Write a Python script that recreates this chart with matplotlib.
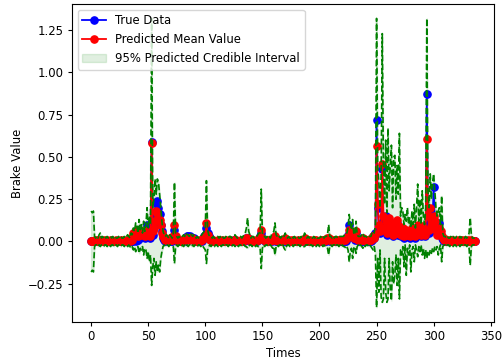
import numpy as np
import matplotlib
matplotlib.use("Agg")
import matplotlib.pyplot as plt

# values, one per time step (0..336)
true_data = [
    0, 0, 0, 0, 0, 0, 0, 0, 0, 0,
    0, 0, 0, 0, 0, 0, 0, 0, 0, 0,
    0, 0, 0, 0, 0, 0, 0, 0, 0, 0,
    0, 0, 0, 0, 0, 0, 0, 0, 0.02, 0,
    0.04, 0.01, 0.05, 0.02, 0.06, 0.03, 0.05, 0.02, 0.04, 0.10,
    0.03, 0.05, 0.02, 0.59, 0.04, 0.09, 0.16, 0.23, 0.24, 0.20,
    0.16, 0.10, 0.06, 0.02, 0.01, 0, 0.01, 0, 0, 0.01,
    0, 0, 0.02, 0.07, 0.02, 0, 0, 0, 0, 0,
    0, 0, 0.01, 0.02, 0.03, 0.03, 0.02, 0.03, 0.02, 0.01,
    0.02, 0.01, 0, 0, 0, 0, 0.01, 0, 0.02, 0.03,
    0.04, 0.08, 0.05, 0.03, 0.02, 0.01, 0, 0, 0, 0,
    0, 0, 0, 0, 0, 0, 0, 0, 0, 0,
    0, 0, 0, 0, 0, 0.01, 0.01, 0, 0, 0,
    0, 0, 0, 0, 0, 0.01, 0.02, 0.02, 0.01, 0,
    0, 0, 0, 0, 0, 0, 0.01, 0.02, 0.03, 0.05,
    0.02, 0.01, 0, 0, 0, 0, 0, 0, 0, 0.01,
    0.02, 0.01, 0, 0, 0, 0, 0, 0.01, 0.01, 0,
    0.01, 0, 0, 0, 0, 0, 0, 0, 0, 0,
    0, 0, 0, 0, 0, 0, 0.01, 0.01, 0, 0,
    0, 0, 0, 0, 0, 0, 0, 0, 0, 0,
    0, 0, 0, 0, 0, 0, 0, 0.01, 0.01, 0,
    0, 0, 0, 0, 0, 0, 0, 0, 0, 0,
    0, 0, 0, 0, 0.02, 0.04, 0.10, 0.06, 0.03, 0.04,
    0.02, 0.01, 0.05, 0.02, 0.01, 0, 0, 0, 0.01, 0,
    0, 0, 0, 0, 0, 0, 0.01, 0.03, 0.02, 0.05,
    0.72, 0.20, 0.08, 0.05, 0.10, 0.43, 0.12, 0.06, 0.15, 0.04,
    0.08, 0.12, 0.05, 0.07, 0.03, 0.09, 0.05, 0.06, 0.11, 0.04,
    0.08, 0.03, 0.05, 0.07, 0.02, 0.04, 0.06, 0.03, 0.05, 0.02,
    0.04, 0.07, 0.03, 0.05, 0.02, 0.06, 0.09, 0.04, 0.07, 0.03,
    0.08, 0.05, 0.03, 0.06, 0.87, 0.10, 0.05, 0.19, 0.08, 0.12,
    0.32, 0.11, 0.06, 0.05, 0.08, 0.11, 0.04, 0.02, 0.01, 0,
    0, 0, 0, 0, 0, 0, 0, 0, 0, 0,
    0, 0, 0, 0, 0, 0, 0, 0, 0, 0,
    0, 0, 0, 0, 0, 0, 0,
]

pred_mean = [
    0.00, 0.00, 0.00, 0.01, 0.00, 0.01, 0.00, 0.00, 0.01, 0.00,
    0, 0.01, 0, 0, 0.01, 0, 0, 0.01, 0, 0,
    0, 0, 0.01, 0, 0, 0, 0.01, 0, 0, 0.01,
    0, 0, 0.01, 0.01, 0, 0.02, 0.01, 0.05, 0.04, 0.06,
    0.06, 0.03, 0.05, 0.06, 0.04, 0.06, 0.05, 0.03, 0.06, 0.06,
    0.05, 0.04, 0.03, 0.58, 0.06, 0.08, 0.12, 0.18, 0.17, 0.14,
    0.13, 0.10, 0.05, 0.03, 0.02, 0.01, 0.01, 0.01, 0.01, 0.02,
    0.01, 0.01, 0.03, 0.10, 0.03, 0.01, 0, 0.01, 0, 0,
    0.01, 0.01, 0.01, 0.02, 0.02, 0.02, 0.01, 0.02, 0.02, 0.01,
    0.01, 0.01, 0, 0.01, 0, 0, 0.01, 0.01, 0.02, 0.02,
    0.03, 0.11, 0.04, 0.02, 0.01, 0.01, 0, 0.01, 0, 0,
    0, 0.01, 0, 0, 0, 0.01, 0, 0, 0.01, 0,
    0, 0, 0.01, 0, 0, 0.01, 0.01, 0.01, 0, 0,
    0, 0.01, 0, 0, 0.01, 0.01, 0.02, 0.02, 0.01, 0.01,
    0, 0, 0.01, 0, 0, 0.01, 0.01, 0.02, 0.02, 0.07,
    0.02, 0.01, 0.01, 0, 0.01, 0, 0.01, 0, 0.01, 0.01,
    0.02, 0.03, 0.01, 0.01, 0, 0.01, 0, 0.01, 0.01, 0.01,
    0.02, 0.01, 0, 0.01, 0, 0, 0.01, 0, 0.01, 0,
    0, 0.01, 0, 0, 0.01, 0, 0.01, 0.02, 0.01, 0,
    0.01, 0, 0.01, 0, 0, 0.01, 0, 0.01, 0, 0,
    0, 0.01, 0, 0.01, 0, 0.01, 0.01, 0.02, 0.02, 0.01,
    0.01, 0, 0.01, 0, 0.01, 0.01, 0, 0.01, 0.01, 0.01,
    0.01, 0.01, 0.01, 0.02, 0.02, 0.03, 0.07, 0.04, 0.03, 0.03,
    0.02, 0.02, 0.06, 0.02, 0.01, 0.01, 0.01, 0.01, 0.02, 0.01,
    0.01, 0.01, 0.01, 0.01, 0.01, 0.01, 0.02, 0.03, 0.02, 0.04,
    0.565, 0.22, 0.10, 0.06, 0.08, 0.46, 0.15, 0.08, 0.12, 0.05,
    0.10, 0.14, 0.06, 0.09, 0.04, 0.11, 0.06, 0.05, 0.13, 0.05,
    0.09, 0.04, 0.06, 0.08, 0.03, 0.05, 0.07, 0.04, 0.06, 0.03,
    0.04, 0.08, 0.04, 0.06, 0.03, 0.05, 0.10, 0.05, 0.08, 0.04,
    0.09, 0.06, 0.04, 0.07, 0.605, 0.15, 0.07, 0.20, 0.09, 0.10,
    0.15, 0.12, 0.07, 0.04, 0.06, 0.08, 0.06, 0.03, 0.02, 0.01,
    0.01, 0, 0.01, 0, 0.01, 0, 0, 0.01, 0, 0,
    0, 0.01, 0, 0, 0.01, 0, 0, 0.01, 0, 0,
    0.01, 0, 0, 0.01, 0, 0, 0,
]

upper_ci = [
    0.18, 0.17, 0.18, 0.03, 0.02, 0.03, 0.02, 0.04, 0.05, 0.02,
    0.03, 0.02, 0.03, 0.02, 0.03, 0.02, 0.02, 0.03, 0.02, 0.03,
    0.02, 0.03, 0.02, 0.02, 0.03, 0.02, 0.03, 0.02, 0.02, 0.03,
    0.02, 0.03, 0.04, 0.03, 0.02, 0.05, 0.04, 0.08, 0.06, 0.11,
    0.09, 0.05, 0.13, 0.07, 0.10, 0.05, 0.12, 0.06, 0.10, 0.20,
    0.08, 0.15, 0.10, 1.32, 0.20, 0.25, 0.37, 0.28, 0.37, 0.35,
    0.28, 0.20, 0.12, 0.06, 0.04, 0.03, 0.04, 0.03, 0.02, 0.04,
    0.03, 0.02, 0.05, 0.35, 0.05, 0.03, 0.02, 0.03, 0.02, 0.03,
    0.03, 0.04, 0.03, 0.05, 0.04, 0.04, 0.03, 0.05, 0.04, 0.03,
    0.04, 0.03, 0.02, 0.03, 0.02, 0.03, 0.03, 0.04, 0.05, 0.06,
    0.08, 0.36, 0.07, 0.04, 0.03, 0.03, 0.02, 0.03, 0.02, 0.02,
    0.03, 0.03, 0.02, 0.03, 0.02, 0.03, 0.02, 0.02, 0.03, 0.02,
    0.02, 0.03, 0.03, 0.02, 0.03, 0.03, 0.04, 0.03, 0.02, 0.02,
    0.03, 0.03, 0.02, 0.03, 0.04, 0.05, 0.08, 0.14, 0.06, 0.04,
    0.02, 0.03, 0.03, 0.02, 0.03, 0.03, 0.04, 0.05, 0.05, 0.31,
    0.05, 0.03, 0.03, 0.02, 0.03, 0.02, 0.03, 0.02, 0.04, 0.05,
    0.06, 0.11, 0.04, 0.03, 0.02, 0.03, 0.02, 0.03, 0.04, 0.03,
    0.05, 0.03, 0.02, 0.03, 0.02, 0.02, 0.03, 0.02, 0.03, 0.02,
    0.02, 0.03, 0.02, 0.02, 0.03, 0.02, 0.03, 0.05, 0.03, 0.02,
    0.03, 0.02, 0.03, 0.02, 0.02, 0.03, 0.02, 0.03, 0.02, 0.02,
    0.02, 0.03, 0.02, 0.03, 0.02, 0.03, 0.03, 0.04, 0.10, 0.03,
    0.03, 0.02, 0.03, 0.02, 0.03, 0.03, 0.02, 0.03, 0.03, 0.03,
    0.03, 0.03, 0.04, 0.05, 0.05, 0.08, 0.16, 0.10, 0.07, 0.13,
    0.05, 0.04, 0.12, 0.04, 0.03, 0.03, 0.03, 0.04, 0.05, 0.03,
    0.03, 0.03, 0.02, 0.03, 0.03, 0.03, 0.05, 0.06, 0.05, 0.10,
    1.32, 0.45, 0.35, 0.20, 0.40, 1.23, 0.45, 0.22, 0.60, 0.17,
    0.67, 0.30, 0.45, 0.57, 0.20, 0.50, 0.51, 0.25, 0.45, 0.28,
    0.64, 0.15, 0.20, 0.18, 0.10, 0.16, 0.12, 0.20, 0.10, 0.14,
    0.08, 0.18, 0.10, 0.22, 0.08, 0.20, 0.34, 0.12, 0.25, 0.10,
    0.30, 0.15, 0.10, 0.20, 1.32, 0.30, 0.20, 0.40, 0.25, 0.35,
    0.40, 0.30, 0.20, 0.15, 0.18, 0.20, 0.10, 0.27, 0.05, 0.03,
    0.03, 0.02, 0.03, 0.02, 0.02, 0.03, 0.02, 0.03, 0.02, 0.02,
    0.03, 0.02, 0.02, 0.03, 0.02, 0.03, 0.02, 0.02, 0.03, 0.02,
    0.03, 0.05, 0.14, 0.04, 0.02, 0.02, 0.02,
]

lower_ci = [
    -0.18, -0.17, -0.18, -0.03, -0.02, -0.02, -0.03, -0.02, -0.03, -0.02,
    -0.02, -0.03, -0.02, -0.02, -0.03, -0.02, -0.02, -0.03, -0.02, -0.02,
    -0.03, -0.02, -0.02, -0.03, -0.02, -0.02, -0.03, -0.02, -0.02, -0.03,
    -0.02, -0.02, -0.03, -0.02, -0.03, -0.04, -0.03, -0.05, -0.03, -0.06,
    -0.04, -0.03, -0.07, -0.04, -0.05, -0.03, -0.08, -0.04, -0.05, -0.10,
    -0.06, -0.12, -0.08, -0.26, -0.15, -0.10, -0.20, -0.12, -0.18, -0.14,
    -0.18, -0.10, -0.06, -0.03, -0.02, -0.03, -0.02, -0.02, -0.03, -0.02,
    -0.02, -0.03, -0.03, -0.13, -0.03, -0.02, -0.03, -0.02, -0.02, -0.03,
    -0.02, -0.03, -0.02, -0.03, -0.02, -0.03, -0.02, -0.02, -0.03, -0.02,
    -0.03, -0.02, -0.02, -0.03, -0.02, -0.02, -0.03, -0.02, -0.03, -0.04,
    -0.05, -0.13, -0.05, -0.03, -0.02, -0.03, -0.02, -0.02, -0.03, -0.02,
    -0.02, -0.03, -0.02, -0.02, -0.03, -0.02, -0.02, -0.03, -0.02, -0.02,
    -0.03, -0.02, -0.02, -0.03, -0.02, -0.02, -0.03, -0.02, -0.02, -0.03,
    -0.02, -0.02, -0.03, -0.02, -0.02, -0.03, -0.03, -0.04, -0.03, -0.02,
    -0.02, -0.03, -0.02, -0.02, -0.03, -0.02, -0.03, -0.03, -0.04, -0.16,
    -0.04, -0.02, -0.03, -0.02, -0.02, -0.03, -0.02, -0.02, -0.03, -0.04,
    -0.03, -0.08, -0.03, -0.02, -0.03, -0.02, -0.02, -0.03, -0.02, -0.04,
    -0.05, -0.03, -0.02, -0.02, -0.03, -0.02, -0.02, -0.03, -0.02, -0.02,
    -0.03, -0.02, -0.02, -0.03, -0.02, -0.02, -0.03, -0.03, -0.02, -0.02,
    -0.02, -0.03, -0.02, -0.02, -0.03, -0.02, -0.02, -0.03, -0.02, -0.02,
    -0.03, -0.02, -0.02, -0.03, -0.02, -0.03, -0.03, -0.04, -0.08, -0.03,
    -0.02, -0.03, -0.02, -0.02, -0.03, -0.02, -0.02, -0.03, -0.02, -0.03,
    -0.02, -0.03, -0.03, -0.04, -0.03, -0.05, -0.12, -0.06, -0.04, -0.10,
    -0.04, -0.03, -0.07, -0.03, -0.02, -0.03, -0.02, -0.03, -0.04, -0.02,
    -0.03, -0.02, -0.02, -0.03, -0.02, -0.03, -0.04, -0.05, -0.03, -0.08,
    -0.39, -0.10, -0.30, -0.05, -0.33, -0.36, -0.34, -0.10, -0.30, -0.36,
    -0.34, -0.10, -0.28, -0.35, -0.12, -0.25, -0.20, -0.08, -0.26, -0.10,
    -0.34, -0.05, -0.08, -0.03, -0.15, -0.02, -0.20, -0.04, -0.08, -0.02,
    -0.18, -0.05, -0.03, -0.12, -0.02, -0.05, -0.09, -0.03, -0.06, -0.02,
    -0.08, -0.04, -0.10, -0.05, -0.10, -0.06, -0.08, -0.05, -0.07, -0.04,
    -0.06, -0.03, -0.05, -0.03, -0.08, -0.04, -0.02, -0.12, -0.03, -0.02,
    -0.02, -0.03, -0.02, -0.02, -0.03, -0.02, -0.02, -0.03, -0.02, -0.02,
    -0.03, -0.02, -0.02, -0.03, -0.02, -0.02, -0.03, -0.02, -0.02, -0.03,
    -0.02, -0.04, -0.14, -0.03, -0.02, -0.02, -0.02,
]

times = np.arange(len(true_data))

plt.rcParams['font.size'] = 8.4
plt.rcParams['xtick.major.size'] = 3
plt.rcParams['ytick.major.size'] = 3
plt.rcParams['xtick.major.pad'] = 3
plt.rcParams['ytick.major.pad'] = 3
plt.rcParams['axes.labelpad'] = 3
fig, ax = plt.subplots(figsize=(5.03, 3.6), dpi=100)
fig.subplots_adjust(left=0.143, right=0.982, bottom=0.106, top=0.989)

ax.plot(times, true_data, 'bo-', lw=1.3, ms=5.2, label="True Data")
ax.plot(times, pred_mean, 'ro-', lw=1.3, ms=5.2, label="Predicted Mean Value")
ax.fill_between(times, lower_ci, upper_ci, color='green', alpha=0.12,
                label="95% Predicted Credible Interval")
ax.plot(times, upper_ci, 'g--', lw=1.2)
ax.plot(times, lower_ci, 'g--', lw=1.2)

ax.set_xlabel("Times")
ax.set_ylabel("Brake Value")
ax.legend(loc='upper left')

fig.savefig("out.png", dpi=100)
